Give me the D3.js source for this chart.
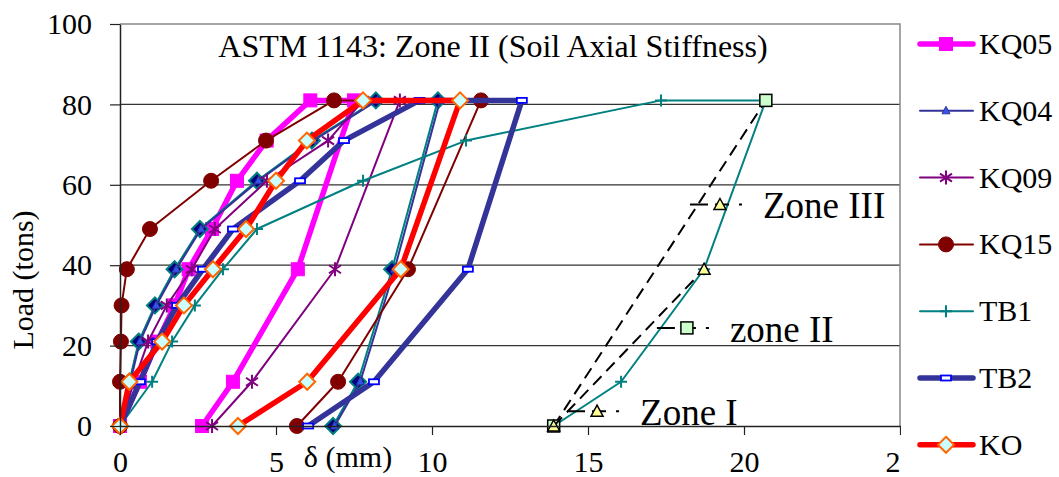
<!DOCTYPE html>
<html>
<head>
<meta charset="utf-8">
<script src="https://cdn.jsdelivr.net/npm/d3@7"></script>
<style>
  body { margin: 0; background: #fff; }
  text { font-family: "Liberation Serif", "Times New Roman", serif; fill: #000; }
</style>
</head>
<body>
<div id="chart"></div>
<script>
// load / settlement readings, [delta mm, load tons]
var kq05  = [[0,0],[0.64,11],[1.2,21],[1.75,30],[2.2,39],[2.95,49],[3.75,61],[4.7,71],[6.1,81],[7.5,81],[5.7,39],[3.62,11],[2.63,0]];
var kq04b = [[0,0],[0.3,11],[0.6,21],[1.12,30],[1.75,39],[2.56,49],[4.39,61],[6.15,71],[8.2,81],[10.19,81],[8.72,39],[7.63,11],[6.83,0]];
var kq04  = [[0,0],[0.33,11],[0.64,21],[1.16,30],[1.8,39],[2.6,49],[4.44,61],[6.2,71],[8.25,81],[10.26,81],[8.8,39],[7.7,11],[6.88,0]];
var kq09  = [[0,0],[0.45,11],[0.9,21],[1.5,30],[2.3,39],[3.04,49],[4.71,61],[6.67,71],[7.8,81],[8.97,81],[6.89,39],[4.23,11],[2.95,0]];
var kq15  = [[0,0],[0,11],[0.03,21],[0.05,30],[0.22,39],[0.96,49],[2.92,61],[4.68,71],[6.86,81],[11.57,81],[9.23,39],[6.99,11],[5.67,0]];
var tb1   = [[0,0],[1.03,11],[1.67,21],[2.4,30],[3.3,39],[4.39,49],[7.79,61],[11.09,71],[17.34,81],[20.7,81],[18.72,39],[16.06,11],[13.9,0]];
var tb2   = [[0,0],[0.64,11],[1.19,21],[1.83,30],[2.66,39],[3.62,49],[5.77,61],[7.18,71],[9.6,81],[12.88,81],[11.15,39],[8.14,11],[6.03,0]];
var ko    = [[0,0],[0.3,11],[1.35,21],[2.05,30],[2.98,39],[4.04,49],[5.0,61],[5.99,71],[7.79,81],[10.9,81],[9.0,39],[6.0,11],[3.78,0]];
var zone2 = [[13.9,0],[20.7,81]];
var zone1 = [[13.9,0],[18.72,39]];

var xTicks = [0,5,10,15,20,25];
var yTicks = [0,20,40,60,80,100];

// zone call-outs: [label, delta, load, marker]
var zoneNotes = [["Zone III",19.23,55.1,"tri"],["zone II",18.17,24.4,"sq"],["Zone I",15.29,3.7,"tri"]];

var series = [
  {name:"KQ05", data:kq05,  color:"#ff00ff", w:5.5, mk:"square", fill:"#ff00ff", stroke:"#ff00ff"},
  {name:null,   data:kq04b, color:"#008080", w:2,   mk:"diamond", fill:"#000080", stroke:"#008080"},
  {name:"KQ04", data:kq04,  color:"#333399", w:2,   mk:"tri",    fill:"#3355ee", stroke:"#333399"},
  {name:"KQ09", data:kq09,  color:"#800080", w:2,   mk:"star",   fill:"none",    stroke:"#800080"},
  {name:"KQ15", data:kq15,  color:"#800000", w:2,   mk:"circle", fill:"#800000", stroke:"#800000"},
  {name:"TB1",  data:tb1,   color:"#008080", w:2,   mk:"plus",   fill:"none",    stroke:"#008080"},
  {name:"TB2",  data:tb2,   color:"#333399", w:5.5, mk:"rect",   fill:"#ffffff", stroke:"#0000ff"},
  {name:"KO",   data:ko,    color:"#ff0000", w:5.5, mk:"diamondL", fill:"#ccffff", stroke:"#ff6600"}
];

var width = 1059, height = 477;
var svg = d3.select("#chart").append("svg")
    .attr("width", width)
    .attr("height", height);

var x = d3.scaleLinear().domain([0,25]).range([120,900]);
var y = d3.scaleLinear().domain([0,100]).range([426,24]);

// grid lines
svg.append("g").selectAll("line")
    .data([20,40,60,80])
    .enter().append("line")
    .attr("x1", x(0)).attr("x2", x(25))
    .attr("y1", function(d){ return y(d); }).attr("y2", function(d){ return y(d); })
    .attr("stroke", "#333").attr("stroke-width", 1.2);

// top + right border
svg.append("path")
    .attr("d", "M" + x(0) + "," + y(100) + "H" + x(25) + "V" + y(0))
    .attr("fill", "none").attr("stroke", "#888").attr("stroke-width", 1.5);

// markers
function marker(g, type, fill, stroke) {
  if (type == "square") {
    g.append("rect").attr("x",-6.5).attr("y",-6.5).attr("width",13).attr("height",13)
      .attr("fill",fill).attr("stroke",stroke);
  } else if (type == "diamond" || type == "diamondL") {
    g.append("path").attr("d","M0,-8L8,0L0,8L-8,0Z")
      .attr("fill",fill).attr("stroke",stroke).attr("stroke-width",2);
  } else if (type == "tri") {
    g.append("path").attr("d","M0,-4.5L4,3L-4,3Z")
      .attr("fill",fill).attr("stroke",stroke).attr("stroke-width",1);
  } else if (type == "star") {
    g.append("path").attr("d","M0,-7V7M-6,-4L6,4M-6,4L6,-4")
      .attr("fill","none").attr("stroke",stroke).attr("stroke-width",2);
  } else if (type == "circle") {
    g.append("circle").attr("r",7.5).attr("fill",fill).attr("stroke",stroke);
  } else if (type == "plus") {
    g.append("path").attr("d","M-6,0H6M0,-6V6")
      .attr("fill","none").attr("stroke",stroke).attr("stroke-width",2);
  } else if (type == "rect") {
    g.append("rect").attr("x",-5).attr("y",-2.5).attr("width",10).attr("height",5)
      .attr("fill",fill).attr("stroke",stroke).attr("stroke-width",1.8);
  } else if (type == "ztri") {
    g.append("path").attr("d","M0,-6L6,5L-6,5Z")
      .attr("fill","#ffff99").attr("stroke","#000").attr("stroke-width",1.5);
  } else if (type == "zsq") {
    g.append("rect").attr("x",-6).attr("y",-6).attr("width",12).attr("height",12)
      .attr("fill","#ccffcc").attr("stroke","#000").attr("stroke-width",1.5);
  }
}

var line = d3.line()
    .x(function(d){ return x(d[0]); })
    .y(function(d){ return y(d[1]); });

series.forEach(function(s) {
  var g = svg.append("g");
  g.append("path")
      .attr("d", line(s.data))
      .attr("fill", "none")
      .attr("stroke", s.color)
      .attr("stroke-width", s.w)
      .attr("stroke-linejoin", "round");
  g.selectAll("g.mk")
      .data(s.data)
      .enter().append("g")
      .attr("class", "mk")
      .attr("transform", function(d){ return "translate(" + x(d[0]) + "," + y(d[1]) + ")"; })
      .each(function(){ marker(d3.select(this), s.mk, s.fill, s.stroke); });
});

// zone lines (dashed)
[[zone2,"zsq"],[zone1,"ztri"]].forEach(function(z) {
  svg.append("path")
      .attr("d", line(z[0]))
      .attr("fill","none").attr("stroke","#000")
      .attr("stroke-width",2).attr("stroke-dasharray","12,7");
  svg.append("g").selectAll("g")
      .data(z[0]).enter().append("g")
      .attr("transform", function(d){ return "translate(" + x(d[0]) + "," + y(d[1]) + ")"; })
      .each(function(){ marker(d3.select(this), z[1]); });
});

// zone call-outs
zoneNotes.forEach(function(n) {
  var cx = x(n[1]), cy = y(n[2]);
  var g = svg.append("g").attr("transform", "translate(" + cx + "," + cy + ")");
  g.append("line").attr("x1",-30).attr("x2",32).attr("y1",0).attr("y2",0)
      .attr("stroke","#000").attr("stroke-width",2).attr("stroke-dasharray","18,7,14,10,3,100");
  marker(g, n[3] == "tri" ? "ztri" : "zsq");
  g.append("text").attr("x",43).attr("y",14)
      .style("font-size","37px").text(n[0]);
});

// axes
var xAxis = svg.append("g")
    .attr("transform", "translate(0," + y(0) + ")")
    .call(d3.axisBottom(x).tickValues(xTicks).tickSize(9).tickSizeOuter(0).tickPadding(16));
var yAxis = svg.append("g")
    .attr("transform", "translate(" + x(0) + ",0)")
    .call(d3.axisLeft(y).tickValues(yTicks).tickSize(10).tickSizeOuter(0).tickPadding(18));
[xAxis, yAxis].forEach(function(a) {
  a.select(".domain").attr("stroke","#222").attr("stroke-width",1.5);
  a.selectAll(".tick line").attr("stroke","#222").attr("stroke-width",1.2);
  a.selectAll(".tick text").style("font-family",'"Liberation Serif", serif')
      .style("font-size","30px").attr("fill","#000");
});

// titles
svg.append("text")
    .attr("x", 493).attr("y", 57)
    .attr("text-anchor", "middle")
    .style("font-size", "32px")
    .text("ASTM 1143: Zone II (Soil Axial Stiffness)");

svg.append("text")
    .attr("x", 348).attr("y", 467)
    .attr("text-anchor", "middle")
    .style("font-size", "30px")
    .text("\u03b4 (mm)");

svg.append("text")
    .attr("transform", "translate(33,280) rotate(-90)")
    .attr("text-anchor", "middle")
    .style("font-size", "30px")
    .text("Load (tons)");

// legend (white box hides the tail of the last x label)
var leg = svg.append("g");
leg.append("rect").attr("x", 901).attr("y", 0).attr("width", 158).attr("height", height).attr("fill", "#fff");
var legSeries = series.filter(function(s){ return s.name; });
legSeries.forEach(function(s, i) {
  var cy = 44 + i * 66.8;
  var g = leg.append("g").attr("transform", "translate(0," + cy + ")");
  g.append("line").attr("x1", 920).attr("x2", 973)
      .attr("stroke", s.color).attr("stroke-width", s.w).attr("stroke-linecap", "round");
  var m = g.append("g").attr("transform", "translate(946,0)");
  marker(m, s.mk, s.fill, s.stroke);
  g.append("text").attr("x", 979).attr("y", 10)
      .style("font-size", "30px").text(s.name);
});
</script>
</body>
</html>
